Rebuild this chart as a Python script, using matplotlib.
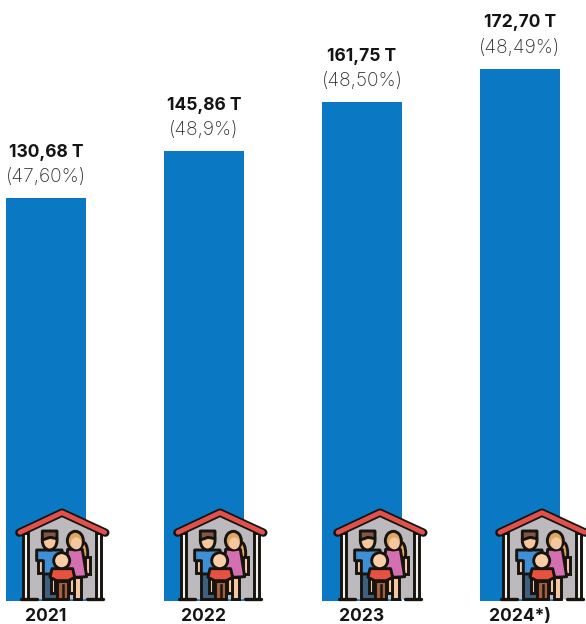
import matplotlib
matplotlib.use("Agg")
import matplotlib.pyplot as plt
from matplotlib.patches import Circle, Ellipse, Polygon, Rectangle
from matplotlib.transforms import Affine2D

# ------- DATA -------
years = ["2021", "2022", "2023", "2024*)"]
values = [130.68, 145.86, 161.75, 172.70]
value_labels = ["130,68 T", "145,86 T", "161,75 T", "172,70 T"]
share_labels = ["(47,60%)", "(48,9%)", "(48,50%)", "(48,49%)"]

BAR_COLOR = "#0a78c3"
W, H = 586, 624
BASE_PX = 600.5
PX_PER_T = 3.08
STEP_PX = 158.0
FIRST_BAR_PX = 46.0
ICON_X = [0, 158, 318, 480]

plt.rcParams['font.family'] = ['Inter', 'DejaVu Sans']

fig = plt.figure(figsize=(W / 100, H / 100), dpi=100, facecolor="white")
ax = fig.add_axes([0, (H - BASE_PX) / H, 1, BASE_PX / H])
xs = list(range(len(values)))
ax.bar(xs, values, width=80 / STEP_PX, color=BAR_COLOR, linewidth=0)
ax.set_xlim(-FIRST_BAR_PX / STEP_PX, (W - FIRST_BAR_PX) / STEP_PX)
ax.set_ylim(0, BASE_PX / PX_PER_T)
ax.set_yticks([])
ax.set_xticks(xs)
ax.set_xticklabels(years, fontsize=12.6, fontweight="bold", color="#161616")
ax.tick_params(axis="x", length=0, pad=5.5)
for s in ax.spines.values():
    s.set_visible(False)

for x, v, top, sub in zip(xs, values, value_labels, share_labels):
    ax.annotate(top, (x, v), xytext=(0, 33), textcoords="offset points", ha="center", va="center",
                fontsize=12.6, fontweight="bold", color="#141414")
    ax.annotate(sub, (x, v), xytext=(0, 15), textcoords="offset points", ha="center", va="center",
                fontsize=13.8, fontweight="light", color="#303030")

# overlay in pixel units for the house icons
ov = fig.add_axes([0, 0, 1, 1], facecolor="none")
ov.set_xlim(0, W)
ov.set_ylim(H, 0)
ov.axis("off")

OUT = "#17130f"
LW = 2.1


def draw_icon(dx):
    tr = Affine2D().scale(1 / 3).translate(dx, 490) + ov.transData

    def add(p):
        p.set_transform(tr)
        p.set_clip_on(False)
        ov.add_patch(p)

    def poly(pts, fc, lw=LW):
        add(Polygon(pts, closed=True, fc=fc, ec=OUT, lw=lw, joinstyle="round"))

    def rect(x0, y0, x1, y1, fc, lw=LW):
        add(Rectangle((x0, y0), x1 - x0, y1 - y0, fc=fc, ec=OUT, lw=lw))

    # house
    poly([(72, 125), (186, 78), (305, 125), (305, 328), (72, 328)], "#bcbabd", lw=0)
    rect(70, 130, 84, 328, "#f4f1ec")
    rect(288, 130, 304, 328, "#f4f1ec")
    ov.plot([64, 110], [328, 328], color=OUT, lw=2.4, transform=tr, solid_capstyle="round", clip_on=False)
    ov.plot([260, 310], [328, 328], color=OUT, lw=2.4, transform=tr, solid_capstyle="round", clip_on=False)

    # roof
    ov.plot([58, 186, 316], [128, 68, 128], color=OUT, lw=6, transform=tr, solid_capstyle="round",
            solid_joinstyle="round", clip_on=False)
    ov.plot([60, 186, 314], [127, 68, 127], color="#e2504c", lw=3.4, transform=tr, solid_capstyle="round",
            solid_joinstyle="round", clip_on=False)

    # mother
    add(Ellipse((250, 190), 26, 66, fc="#dca85a", ec=OUT, lw=LW))
    rect(256, 200, 270, 252, "#f4c7a2")
    rect(222, 260, 242, 328, "#f4c7a2")
    poly([(203, 178), (247, 178), (260, 260), (194, 264)], "#d46fb2")
    add(Ellipse((226, 152), 48, 56, fc="#dca85a", ec=OUT, lw=LW))
    add(Ellipse((229, 160), 32, 36, fc="#f4c7a2", ec="none", lw=0))

    # father
    rect(130, 248, 172, 328, "#3f5f80")
    rect(114, 205, 130, 248, "#f4c7a2")
    poly([(110, 180), (186, 180), (192, 240), (172, 252), (130, 252), (130, 212), (110, 212)], "#3f8fd4")
    add(Ellipse((149, 152), 44, 56, fc="#f6c6a0", ec=OUT, lw=LW))
    poly([(127, 150), (127, 123), (171, 123), (171, 146), (150, 142)], "#80574b")

    # child
    rect(172, 272, 204, 328, "#a5603f")
    ov.plot([188, 188], [285, 328], color=OUT, lw=1.8, transform=tr, clip_on=False)
    rect(152, 258, 166, 310, "#f4c7a2")
    rect(208, 258, 222, 310, "#f4c7a2")
    poly([(156, 236), (218, 236), (224, 262), (205, 272), (170, 272), (150, 262)], "#e8503f")
    add(Circle((185, 212), 24, fc="#f8cda8", ec=OUT, lw=LW))


for dx in ICON_X:
    draw_icon(dx)

fig.savefig("out.png", dpi=100)
